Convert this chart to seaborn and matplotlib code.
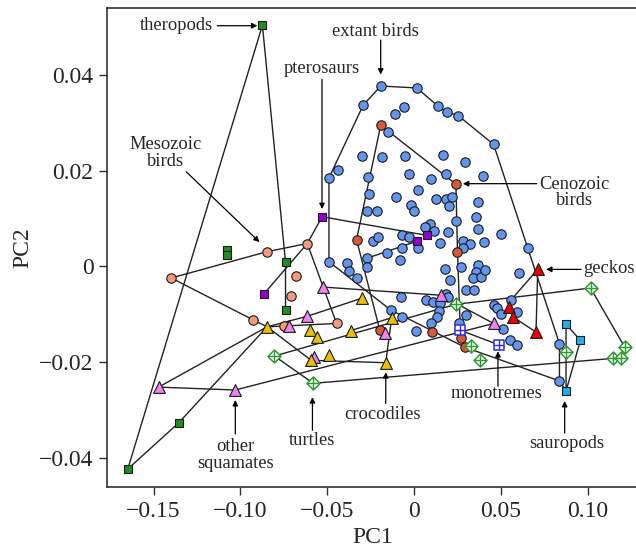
import matplotlib
matplotlib.use("Agg")
import matplotlib.pyplot as plt
import seaborn as sns
import pandas as pd

# ---------------- data (PC1, PC2 per group) ----------------
ext_pc1 = [-0.0192, 0.0016, -0.0293, -0.0110, -0.0058, 0.0138, 0.0187, 0.0255, -0.0150, 0.0458,
           -0.0298, -0.0182, -0.0054, 0.0164, 0.0293, -0.0439, -0.0490, -0.0264, -0.0029, 0.0096,
           0.0185, 0.0395, 0.0021, -0.0261, -0.0104, 0.0125, 0.0185, 0.0219, 0.0202, 0.0366,
           -0.0019, -0.0002, -0.0269, -0.0211, 0.0241, 0.0359, 0.0368, 0.0091, 0.0062, 0.0117,
           0.0198, 0.0404, 0.0500, -0.0238, -0.0209, -0.0071, -0.0031, 0.0148, 0.0279, 0.0321,
           0.0284, 0.0654, -0.0068, 0.0020, -0.0158, -0.0273, -0.0080, -0.0490, -0.0384, -0.0377,
           -0.0273, -0.0331, 0.0180, 0.0272, 0.0368, 0.0356, 0.0337, 0.0385, 0.0408, 0.0206,
           0.0604, 0.0298, 0.0343, -0.0077, 0.0068, 0.0108, 0.0151, 0.0183, 0.0193, 0.0145,
           0.0134, -0.0134, -0.0067, 0.0096, 0.0014, 0.0260, 0.0298, 0.0458, 0.0480, 0.0500,
           0.0558, 0.0595, 0.0510, 0.0554, 0.0593, 0.0837, 0.0837]
ext_pc2 = [0.0377, 0.0373, 0.0337, 0.0318, 0.0333, 0.0335, 0.0323, 0.0315, 0.0280, 0.0255,
           0.0230, 0.0229, 0.0230, 0.0232, 0.0219, 0.0201, 0.0185, 0.0187, 0.0194, 0.0182,
           0.0194, 0.0189, 0.0160, 0.0151, 0.0145, 0.0142, 0.0142, 0.0146, 0.0126, 0.0135,
           0.0129, 0.0116, 0.0116, 0.0116, 0.0096, 0.0103, 0.0079, 0.0089, 0.0082, 0.0074,
           0.0073, 0.0051, 0.0067, 0.0054, 0.0062, 0.0065, 0.0062, 0.0049, 0.0053, 0.0048,
           0.0038, 0.0039, 0.0038, 0.0039, 0.0028, 0.0017, 0.0014, 0.0010, 0.0007, -0.0009,
           -0.0001, -0.0024, -0.0005, -0.0001, 0.0003, -0.0012, -0.0024, -0.0022, -0.0007, -0.0029,
           -0.0013, -0.0050, -0.0050, -0.0063, -0.0070, -0.0075, -0.0076, -0.0057, -0.0064, -0.0094,
           -0.0106, -0.0091, -0.0105, -0.0119, -0.0134, -0.0119, -0.0102, -0.0081, -0.0086, -0.0100,
           -0.0070, -0.0095, -0.0131, -0.0153, -0.0164, -0.0161, -0.0239]

meso_pc1 = [-0.0846, -0.0615, -0.1398, -0.0677, -0.0711, -0.0929, -0.0750, -0.0446]
meso_pc2 = [0.0031, 0.0048, -0.0024, -0.0020, -0.0061, -0.0111, -0.0124, -0.0119]

ceno_pc1 = [-0.0192, 0.0241, -0.0331, 0.0250, -0.0198, 0.0106, 0.0295, 0.0268]
ceno_pc2 = [0.0295, 0.0172, 0.0056, 0.0030, -0.0132, -0.0136, -0.0169, -0.0150]

thero_pc1 = [-0.0873, -0.1077, -0.1077, -0.0740, -0.0740, -0.1356, -0.1648]
thero_pc2 = [0.0504, 0.0034, 0.0024, 0.0009, -0.0091, -0.0327, -0.0423]

ptero_pc1 = [-0.0529, -0.0866, 0.0073, 0.0018]
ptero_pc2 = [0.0104, -0.0058, 0.0065, 0.0053]

squam_pc1 = [-0.0523, -0.0615, -0.0721, -0.0577, -0.1471, -0.1029, 0.0154, -0.0169, 0.0458]
squam_pc2 = [-0.0043, -0.0104, -0.0125, -0.0190, -0.0252, -0.0258, -0.0060, -0.0139, -0.0119]

croc_pc1 = [-0.0846, -0.0600, -0.0557, -0.0365, -0.0299, -0.0490, -0.0592, -0.0129, -0.0163]
croc_pc2 = [-0.0126, -0.0133, -0.0147, -0.0134, -0.0066, -0.0184, -0.0196, -0.0107, -0.0201]

turt_pc1 = [-0.0804, -0.0580, 0.0241, 0.0327, 0.0379, 0.0875, 0.1016, 0.1212, 0.1145, 0.1189]
turt_pc2 = [-0.0187, -0.0244, -0.0079, -0.0166, -0.0196, -0.0178, -0.0045, -0.0168, -0.0192, -0.0192]

mono_pc1 = [0.0265, 0.0490]
mono_pc2 = [-0.0133, -0.0164]

saur_pc1 = [0.0875, 0.0958, 0.0875]
saur_pc2 = [-0.0121, -0.0154, -0.0260]

gecko_pc1 = [0.0712, 0.0548, 0.0568, 0.0702]
gecko_pc2 = [-0.0006, -0.0084, -0.0105, -0.0137]

# connecting paths (group, index)
paths = [
    [("thero", 0), ("thero", 6), ("thero", 5), ("croc", 0)],
    [("thero", 0), ("thero", 3), ("thero", 4)],
    [("meso", 1), ("meso", 0), ("meso", 2), ("meso", 5), ("croc", 0), ("meso", 7),
     ("meso", 1), ("ptero", 0), ("ptero", 2)],
    [("meso", 1), ("ptero", 1)],
    [("ptero", 3), ("ext", 55)],
    [("squam", 5), ("squam", 4), ("croc", 0), ("squam", 1), ("croc", 4)],
    [("squam", 5), ("squam", 8), ("squam", 6), ("squam", 0)],
    [("croc", 0), ("croc", 6), ("croc", 8), ("croc", 7), ("croc", 3)],
    [("turt", 1), ("turt", 0), ("turt", 2), ("turt", 6), ("turt", 7), ("turt", 9)],
    [("turt", 1), ("turt", 8)],
    [("mono", 0), ("mono", 1)],
    [("ext", 96), ("saur", 2), ("saur", 0), ("saur", 1), ("saur", 2)],
    [("ext", 90), ("gecko", 0), ("gecko", 3), ("gecko", 2), ("gecko", 1)],
    [("ext", 57), ("ext", 16), ("ext", 2), ("ext", 0), ("ext", 1), ("ext", 5), ("ext", 6),
     ("ext", 7), ("ext", 9), ("ext", 51), ("ext", 95), ("ext", 96), ("ceno", 6),
     ("ext", 81), ("ext", 57)],
    [("ceno", 4), ("ceno", 2), ("ceno", 0), ("ceno", 1), ("ceno", 3), ("ceno", 7), ("ceno", 6)],
]

# annotations: label, text position, arrow tail, arrow head
ann_labels = ["theropods", "extant birds", "pterosaurs", "Mesozoic\nbirds", "Cenozoic\nbirds",
              "geckos", "monotremes", "sauropods", "crocodiles", "turtles", "other\nsquamates"]
ann_text = [(-0.1369, 0.0503), (-0.0221, 0.0490), (-0.0529, 0.0414), (-0.1429, 0.0237),
            (0.0923, 0.0154), (0.1125, -0.0004), (0.0474, -0.0265), (0.0879, -0.0370),
            (-0.0179, -0.0309), (-0.0589, -0.0363), (-0.1029, -0.0394)]
ann_tail = [(-0.1133, 0.0503), (-0.0192, 0.0473), (-0.0530, 0.0391), (-0.1312, 0.0198),
            (0.0706, 0.0173), (0.0962, -0.0006), (0.0483, -0.0250), (0.0867, -0.0348),
            (-0.0163, -0.0286), (-0.0585, -0.0342), (-0.1029, -0.0350)]
ann_head = [(-0.0902, 0.0503), (-0.0192, 0.0401), (-0.0530, 0.0120), (-0.0890, 0.0051),
            (0.0281, 0.0173), (0.0760, -0.0006), (0.0483, -0.0177), (0.0867, -0.0281),
            (-0.0163, -0.0221), (-0.0585, -0.0273), (-0.1029, -0.0279)]

xtick_vals = [-0.15, -0.10, -0.05, 0, 0.05, 0.10]
xtick_labels = ["\u22120.15", "\u22120.10", "\u22120.05", "0", "0.05", "0.10"]
ytick_vals = [-0.04, -0.02, 0, 0.02, 0.04]
ytick_labels = ["\u22120.04", "\u22120.02", "0", "0.02", "0.04"]

# ---------------- build table ----------------
groups = {
    "ext": (ext_pc1, ext_pc2), "meso": (meso_pc1, meso_pc2), "ceno": (ceno_pc1, ceno_pc2),
    "thero": (thero_pc1, thero_pc2), "ptero": (ptero_pc1, ptero_pc2),
    "squam": (squam_pc1, squam_pc2), "croc": (croc_pc1, croc_pc2),
    "turt": (turt_pc1, turt_pc2), "mono": (mono_pc1, mono_pc2),
    "saur": (saur_pc1, saur_pc2), "gecko": (gecko_pc1, gecko_pc2),
}
rows = []
for g, (xs, ys) in groups.items():
    for i, (a, b) in enumerate(zip(xs, ys)):
        rows.append({"group": g, "idx": i, "PC1": a, "PC2": b})
df = pd.DataFrame(rows)

# ---------------- style ----------------
sns.set_style("ticks")
plt.rcParams["font.family"] = ["Liberation Serif", "DejaVu Serif"]
plt.rcParams["axes.unicode_minus"] = True

fig = plt.figure(figsize=(6.36, 5.57), dpi=100)
ax = fig.add_axes([107.3 / 636, 1 - 486.7 / 557, 1 - 107.3 / 636 + 0.002, (486.7 - 8) / 557])

# lines
for p in paths:
    xs = [groups[g][0][i] for g, i in p]
    ys = [groups[g][1][i] for g, i in p]
    ax.plot(xs, ys, color="#222222", lw=1.0, zorder=1, solid_capstyle="round")

edge = "#1a1a1a"
styles = [
    ("ext", dict(marker="o", s=46, color="#6495ED")),
    ("meso", dict(marker="o", s=46, color="#F29A7E")),
    ("ceno", dict(marker="o", s=46, color="#D65A3A")),
    ("thero", dict(marker="s", s=38, color="#1E8F1E")),
    ("ptero", dict(marker="s", s=38, color="#9400D3")),
    ("saur", dict(marker="s", s=38, color="#1AB2E8")),
    ("squam", dict(marker="^", s=72, color="#EE82EE")),
    ("croc", dict(marker="^", s=72, color="#EBC000")),
    ("gecko", dict(marker="^", s=72, color="#F00000")),
]
z = 3
for g, st in styles:
    sub = df[df.group == g]
    sns.scatterplot(data=sub, x="PC1", y="PC2", marker=st["marker"], s=st["s"],
                    color=st["color"], edgecolor=edge, linewidth=0.8, ax=ax,
                    zorder=z, legend=False)
    z += 1

# turtles: open diamond with cross
sub = df[df.group == "turt"]
sns.scatterplot(data=sub, x="PC1", y="PC2", marker="D", s=44, color="white",
                edgecolor="#2E9A2E", linewidth=1.1, ax=ax, zorder=z, legend=False)
sns.scatterplot(data=sub, x="PC1", y="PC2", marker="+", s=80, color="#2E9A2E",
                linewidth=1.0, ax=ax, zorder=z + 1, legend=False)
# monotremes: open square with cross
sub = df[df.group == "mono"]
sns.scatterplot(data=sub, x="PC1", y="PC2", marker="s", s=52, color="white",
                edgecolor="#2B2BE0", linewidth=1.1, ax=ax, zorder=z + 2, legend=False)
sns.scatterplot(data=sub, x="PC1", y="PC2", marker="+", s=52, color="#2B2BE0",
                linewidth=1.0, ax=ax, zorder=z + 3, legend=False)

# annotations
for lab, tp, tl, hd in zip(ann_labels, ann_text, ann_tail, ann_head):
    ax.text(tp[0], tp[1], lab, ha="center", va="center", fontsize=13.3,
            linespacing=0.95, zorder=20)
    ax.annotate("", xy=hd, xytext=tl,
                arrowprops=dict(arrowstyle="-|>", lw=0.9, color="black",
                                mutation_scale=8, shrinkA=0, shrinkB=0), zorder=20)

ax.set_xlim(-0.1766, 0.1285)
ax.set_ylim(-0.0460, 0.0540)
ax.set_xticks(xtick_vals)
ax.set_xticklabels(xtick_labels)
ax.set_yticks(ytick_vals)
ax.set_yticklabels(ytick_labels)
ax.tick_params(direction="out", length=6, width=1, labelsize=17, pad=4, color="#333333")
ax.spines["right"].set_visible(False)
for sp in ["left", "top", "bottom"]:
    ax.spines[sp].set_linewidth(1.2)
    ax.spines[sp].set_color("#333333")
ax.set_xlabel("PC1", fontsize=17, labelpad=4)
ax.set_ylabel("PC2", fontsize=17, labelpad=4)

fig.savefig("out.png", dpi=100)
